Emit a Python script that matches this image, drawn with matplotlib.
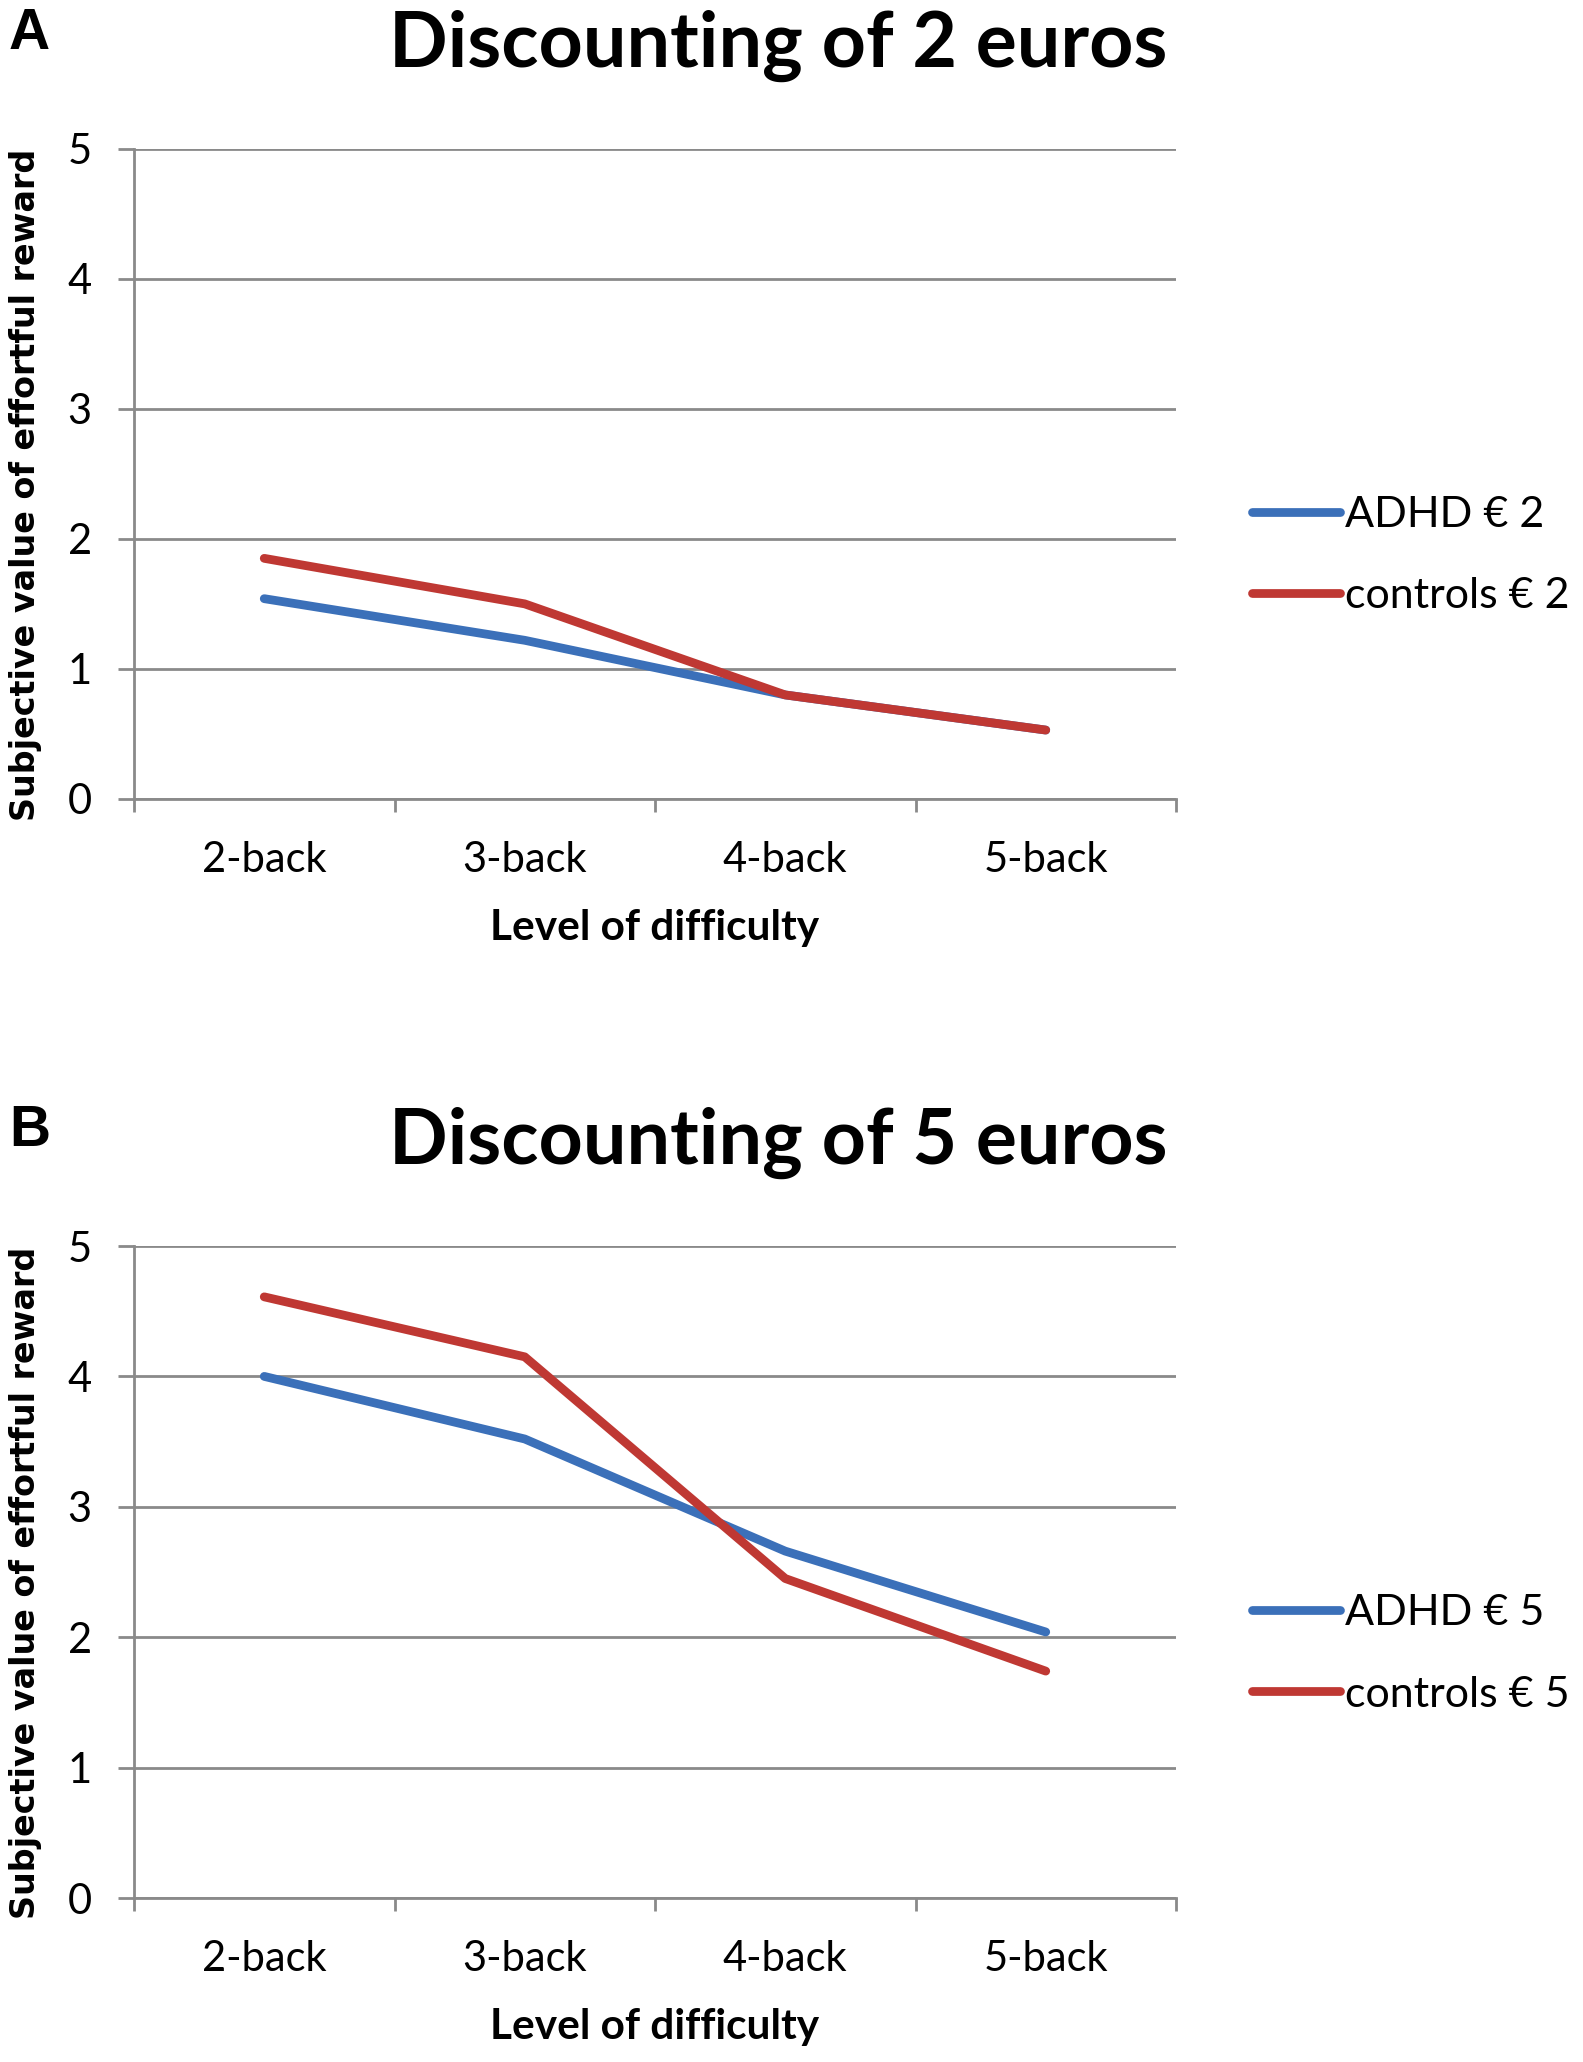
import matplotlib
matplotlib.use("Agg")
import matplotlib.pyplot as plt

# values
LEVELS = ["2-back", "3-back", "4-back", "5-back"]
Y_TICKS = [0, 1, 2, 3, 4, 5]

ADHD_2 = [1.54, 1.22, 0.80, 0.53]
CONTROLS_2 = [1.85, 1.50, 0.80, 0.53]
ADHD_5 = [4.00, 3.52, 2.66, 2.04]
CONTROLS_5 = [4.61, 4.15, 2.45, 1.74]

TITLES = ["Discounting of 2 euros", "Discounting of 5 euros"]
LETTERS = ["A", "B"]
EUROS = ["\u20ac 2", "\u20ac 5"]

BLUE = "#3b70b9"
RED = "#bf3833"
GRID = "#8a8a8a"
W, H = 1583, 2062

plt.rcParams["font.family"] = ["Lato", "DejaVu Sans"]


def fx(px):
    return px / W


def fy(px):
    return 1 - px / H


def draw_panel(fig, top, bottom, letter, title, euro, adhd, controls):
    ax = fig.add_axes([fx(134), fy(bottom), fx(1176 - 134), (bottom - top) / H])
    x = [i + 0.5 for i in range(len(LEVELS))]
    style = dict(lw=6.3, solid_capstyle="round", solid_joinstyle="round")
    ax.plot(x, adhd, color=BLUE, label=f"ADHD {euro}", **style)
    ax.plot(x, controls, color=RED, label=f"controls {euro}", **style)

    ax.set_xlim(0, len(LEVELS))
    ax.set_ylim(0, 5)
    ax.set_yticks(Y_TICKS)
    ax.yaxis.grid(True, color=GRID, lw=2)
    ax.set_axisbelow(True)
    for s in ("top", "right"):
        ax.spines[s].set_visible(False)
    for s in ("left", "bottom"):
        ax.spines[s].set_color(GRID)
        ax.spines[s].set_linewidth(2)

    ax.set_xticks(range(len(LEVELS) + 1))
    ax.set_xticklabels([])
    ax.set_xticks(x, minor=True)
    ax.set_xticklabels(LEVELS, minor=True)
    ax.tick_params(axis="x", which="major", length=9.5, width=2, color=GRID)
    ax.tick_params(axis="x", which="minor", length=0, pad=30, labelsize=30)
    ax.tick_params(axis="y", length=11.5, width=2, color=GRID, pad=19, labelsize=30)

    mid = (top + bottom) / 2
    ax.legend(loc="center left", bbox_to_anchor=(fx(1252), fy(mid + 82)),
              bbox_transform=fig.transFigure, frameon=False, fontsize=31,
              handlelength=2.05, handletextpad=0.12, labelspacing=1.0,
              borderpad=0, borderaxespad=0)

    fig.text(fx(778), fy(top - 82), title, ha="center", va="baseline",
             fontsize=55.5, fontweight="bold")
    fig.text(fx(9), fy(top - 100), letter, ha="left", va="baseline",
             fontsize=41, fontweight="bold", family="Liberation Sans")
    fig.text(fx(26), fy(mid + 11), "Subjective value of effortful reward",
             rotation=90, ha="center", va="center", fontsize=24,
             fontweight="bold", family="DejaVu Sans")
    fig.text(fx(655), fy(bottom + 141), "Level of difficulty", ha="center",
             va="baseline", fontsize=30.5, fontweight="bold")
    return ax


fig = plt.figure(figsize=(W / 100, H / 100), dpi=100)
draw_panel(fig, 148.6, 799, LETTERS[0], TITLES[0], EUROS[0], ADHD_2, CONTROLS_2)
draw_panel(fig, 1246, 1898, LETTERS[1], TITLES[1], EUROS[1], ADHD_5, CONTROLS_5)
fig.savefig("out.png", dpi=100)
